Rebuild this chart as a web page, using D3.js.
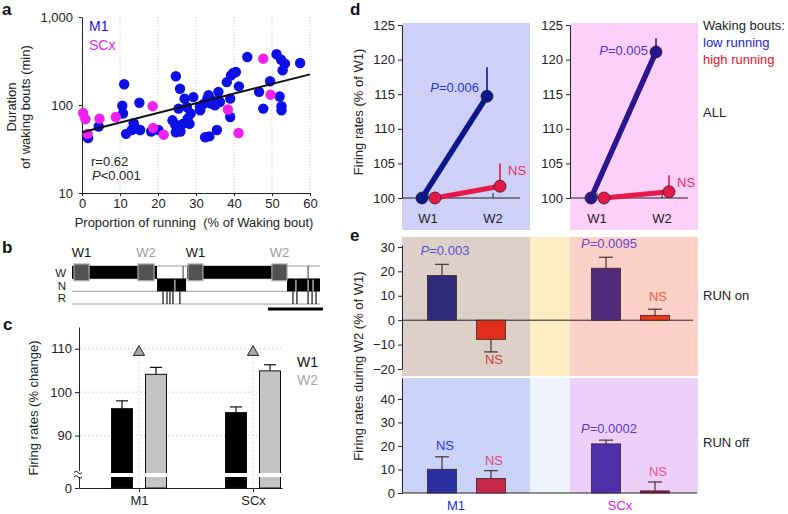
<!DOCTYPE html>
<html>
<head>
<meta charset="utf-8">
<script src="https://cdn.jsdelivr.net/npm/d3@7"></script>
<style>
  body { margin: 0; background: #fff; }
</style>
</head>
<body>
<div id="wrapper"></div>
<script>
// ---------- data ----------
// a: running proportion (%) vs waking bout duration (min)
const m1Run = [1.6, 4.4, 11.1, 10.6, 10.8, 11.6, 13.6, 14.2, 15.1, 15.3, 13.1, 18.2, 20.1, 24.7, 25.8, 23.8, 24.7, 25.9, 25.4, 27,
  27.6, 26.5, 27.8, 28.3, 29.3, 28.6, 31.1, 32, 32.4, 33.5, 33.3, 34.3, 35, 35.9, 35.5, 36.3, 38.1, 39, 39.2, 39.8,
  40.5, 39, 41.3, 43.5, 46.6, 47.7, 49.5, 51.2, 52.4, 53.4, 52.8, 52, 52.5, 52.5, 57.4, 24.5, 33, 34, 31, 36];
const m1Dur = [42, 57, 172, 98, 80, 47, 62, 54, 106, 52, 52, 50, 52, 212, 153, 67, 49, 50, 91, 118,
  95, 61, 70, 61, 123, 80, 87, 103, 43, 44, 129, 113, 99, 141, 52, 108, 182, 118, 217, 231,
  237, 73, 163, 351, 141, 91, 186, 377, 327, 295, 248, 125, 97, 87, 300, 60, 118, 104, 96, 112];
const scxRun = [0.3, 0.9, 1.5, 4.6, 8.9, 18.6, 18.7, 21.5, 38.4, 41.2, 47.7, 49.6];
const scxDur = [81, 69, 47, 70, 73, 97, 55, 46, 89, 48, 336, 131];
const fitRun = [0, 60];
const fitDur = [49, 223];
const aTicksX = [0, 10, 20, 30, 40, 50, 60];
const aTicksY = [10, 100, 1000];

// b: hypnogram (time in arbitrary units, 0-100)
const wakeBlocks = [[0, 34.3], [46.4, 86.7]];
const wakeMarks = [44.8, 95.2];
const nremBlocks = [[34.3, 46], [86.7, 100]];
const nremGaps = [41.5, 90.3, 95.2, 97.2];
const remMarks = [36.7, 38.3, 39.5, 40.7, 43.5, 89.1, 90.7, 95.2, 96.8, 98.4];
const epochNames = ["W1", "W2", "W1", "W2"];
const epochSpans = [[0.8, 6.9], [26.6, 33.1], [46.8, 52.8], [80.6, 86.7]];
const scaleBarSpan = [79, 101.2];
const stageNames = ["W", "N", "R"];

// c: firing rates (% change)
const cRegions = ["M1", "SCx"];
const cW1 = [96.2, 95.3];
const cW1Err = [1.8, 1.3];
const cW2 = [104.1, 104.9];
const cW2Err = [1.6, 1.4];
const cMarks = [109.2, 109.2];
const cTicks = [0, 90, 100, 110];

// d: firing rates (% of W1)
const dSessions = ["W1", "W2"];
const dLowM1 = [100, 114.7], dLowM1Err = [0, 4.2];
const dHighM1 = [100, 101.7], dHighM1Err = [0, 3.3];
const dLowSCx = [100, 121.1], dLowSCxErr = [0, 2.0];
const dHighSCx = [100, 100.9], dHighSCxErr = [0, 2.4];
const dTicks = [100, 105, 110, 115, 120, 125];
const dStats = ["P=0.006", "NS", "P=0.005", "NS"];

// e: firing rates during W2 (% of W1)
const eGroups = ["M1", "SCx"];
const eOnLow = [18.3, 21.3], eOnLowErr = [4.6, 4.5];
const eOnHigh = [-7.9, 2.0], eOnHighErr = [5.1, 2.5];
const eOffLow = [10.1, 20.9], eOffLowErr = [5.3, 1.6];
const eOffHigh = [6.2, 0.9], eOffHighErr = [3.3, 3.8];
const eOnStats = ["P=0.003", "NS", "P=0.0095", "NS"];
const eOffStats = ["NS", "NS", "P=0.0002", "NS"];
const eOnTicks = [-20, -10, 0, 10, 20, 30];
const eOffTicks = [0, 10, 20, 30, 40];

// ---------- helpers ----------
const FONT = '"Liberation Sans", Arial, Helvetica, sans-serif';
const svg = d3.select("#wrapper").append("svg")
  .attr("width", 788).attr("height", 514)
  .style("display", "block")
  .attr("font-family", FONT);

function fixAxis(g) {
  g.attr("font-family", FONT).attr("font-size", 13);
  g.selectAll("text").attr("fill", "#222");
  g.selectAll("path.domain, .tick line").attr("stroke", "#222");
}

function text(g, x, y, s, o = {}) {
  return g.append("text").attr("x", x).attr("y", y)
    .attr("font-size", o.size || 13)
    .attr("font-weight", o.weight || null)
    .attr("fill", o.color || "#222")
    .attr("text-anchor", o.anchor || "start")
    .style("white-space", "pre")
    .text(s);
}

// "P=0.006" -> italic P
function statText(g, x, y, s, color, anchor) {
  const t = g.append("text").attr("x", x).attr("y", y)
    .attr("font-size", 13).attr("fill", color).attr("text-anchor", anchor || "middle");
  if (s.startsWith("P")) {
    t.append("tspan").attr("font-style", "italic").text("P");
    t.append("tspan").text(s.slice(1));
  } else t.text(s);
  return t;
}

function vtitle(g, x, y, s) {
  g.append("text").attr("transform", `translate(${x},${y}) rotate(-90)`)
    .attr("text-anchor", "middle").attr("font-size", 13).attr("fill", "#222").text(s);
}

// panel letters
[["a", 2, 15], ["b", 2, 253], ["c", 3, 330], ["d", 350, 15], ["e", 350, 241]].forEach(([l, x, y]) =>
  text(svg, x, y, l, { size: 17, weight: "bold", color: "#111" }));

// ---------- panel a ----------
const gA = svg.append("g");
const xA = d3.scaleLinear().domain([0, 60]).range([82, 310]);
const yA = d3.scaleLog().domain([10, 1000]).range([193, 17]);

gA.selectAll("line.grid").data(aTicksX.slice(1)).join("line")
  .attr("x1", d => xA(d)).attr("x2", d => xA(d))
  .attr("y1", yA(1000)).attr("y2", yA(10))
  .attr("stroke", "#cfcfcf").attr("stroke-dasharray", "1,2");

gA.append("g").attr("transform", `translate(0,${yA(10)})`)
  .call(d3.axisBottom(xA).tickValues(aTicksX).tickSize(3).tickSizeOuter(0).tickPadding(3))
  .call(fixAxis);
gA.append("g").attr("transform", `translate(${xA(0)},0)`)
  .call(d3.axisLeft(yA).tickValues(aTicksY).tickFormat(d3.format(",")).tickSize(3).tickSizeOuter(0).tickPadding(6))
  .call(fixAxis);

gA.selectAll("circle.m1").data(d3.zip(m1Run, m1Dur)).join("circle")
  .attr("cx", d => xA(d[0])).attr("cy", d => yA(d[1])).attr("r", 5.2).attr("fill", "#0c10e6");
gA.selectAll("circle.scx").data(d3.zip(scxRun, scxDur)).join("circle")
  .attr("cx", d => xA(d[0])).attr("cy", d => yA(d[1])).attr("r", 5.2).attr("fill", "#f020ee");
gA.append("path").datum(d3.zip(fitRun, fitDur))
  .attr("d", d3.line().x(d => xA(d[0])).y(d => yA(d[1])))
  .attr("stroke", "#111").attr("stroke-width", 2).attr("fill", "none");

text(gA, 89, 31, "M1", { size: 14, color: "#1414e0" });
text(gA, 89, 50, "SCx", { size: 14, color: "#f020ee" });
text(gA, 91, 166, "r=0.62");
statText(gA, 92, 180, "P<0.001", "#222", "start");
vtitle(gA, 16, 107, "Duration");
vtitle(gA, 30, 107, "of waking bouts (min)");
text(gA, 194, 227, "Proportion of running  (% of Waking bout)", { anchor: "middle" });

// ---------- panel b ----------
const gB = svg.append("g");
const xB = d3.scaleLinear().domain([0, 100]).range([72, 320]);
const rowY = d3.scaleBand().domain(stageNames).range([266, 304]);

gB.selectAll("text.stage").data(stageNames).join("text")
  .attr("x", 66).attr("y", d => rowY(d) + rowY.bandwidth() / 2 + 4.5)
  .attr("text-anchor", "end").attr("font-size", 11.5).attr("fill", "#222").text(d => d);

gB.selectAll("line.row").data([266, 266 + rowY.bandwidth(), 266 + 2 * rowY.bandwidth(), 304]).join("line")
  .attr("x1", xB(0)).attr("x2", xB(100)).attr("y1", d => d).attr("y2", d => d)
  .attr("stroke", "#9a9a9a").attr("stroke-width", 1);

gB.selectAll("rect.wake").data(wakeBlocks).join("rect")
  .attr("x", d => xB(d[0])).attr("width", d => xB(d[1]) - xB(d[0]))
  .attr("y", rowY("W")).attr("height", rowY.bandwidth()).attr("fill", "#000");
gB.selectAll("line.wm").data(wakeMarks).join("line")
  .attr("x1", d => xB(d)).attr("x2", d => xB(d))
  .attr("y1", rowY("W")).attr("y2", rowY("W") + rowY.bandwidth())
  .attr("stroke", "#333").attr("stroke-width", 1);
gB.selectAll("rect.nrem").data(nremBlocks).join("rect")
  .attr("x", d => xB(d[0])).attr("width", d => xB(d[1]) - xB(d[0]))
  .attr("y", rowY("N")).attr("height", rowY.bandwidth()).attr("fill", "#000");
gB.selectAll("line.ng").data(nremGaps).join("line")
  .attr("x1", d => xB(d)).attr("x2", d => xB(d))
  .attr("y1", rowY("N") + 1).attr("y2", rowY("N") + rowY.bandwidth())
  .attr("stroke", "#fff").attr("stroke-width", 1);
gB.selectAll("line.rm").data(remMarks).join("line")
  .attr("x1", d => xB(d)).attr("x2", d => xB(d))
  .attr("y1", rowY("R")).attr("y2", rowY("R") + rowY.bandwidth())
  .attr("stroke", "#111").attr("stroke-width", 1.2);

gB.selectAll("rect.epoch").data(epochSpans).join("rect")
  .attr("x", d => xB(d[0])).attr("width", d => xB(d[1]) - xB(d[0]))
  .attr("y", rowY("W") - 2).attr("height", rowY.bandwidth() + 4)
  .attr("fill", "#525252").attr("stroke", "#a8a8a8").attr("stroke-width", 1.2);
gB.selectAll("text.epoch").data(epochSpans).join("text")
  .attr("x", d => xB((d[0] + d[1]) / 2)).attr("y", 257)
  .attr("text-anchor", "middle").attr("font-size", 13)
  .attr("fill", (d, i) => epochNames[i] === "W1" ? "#111" : "#9a9a9a")
  .text((d, i) => epochNames[i]);
gB.append("line").attr("x1", xB(scaleBarSpan[0])).attr("x2", xB(scaleBarSpan[1]))
  .attr("y1", 309).attr("y2", 309).attr("stroke", "#000").attr("stroke-width", 3);

// ---------- panel c ----------
const gC = svg.append("g");
const xC = d3.scalePoint().domain(cRegions).range([139, 253]);
const yC = d3.scaleLinear().domain([0, 80, 115]).range([488, 479, 327]);
const cOff = 17, cBarW = 21;

gC.selectAll("line.hg").data(cTicks.slice(1)).join("line")
  .attr("x1", 80).attr("x2", 282).attr("y1", d => yC(d)).attr("y2", d => yC(d))
  .attr("stroke", "#c4c4c4").attr("stroke-dasharray", "1,3");
gC.selectAll("line.vg").data(cRegions).join("line")
  .attr("x1", d => xC(d)).attr("x2", d => xC(d)).attr("y1", (d, i) => yC(cMarks[i]) + 6).attr("y2", yC(0))
  .attr("stroke", "#c4c4c4").attr("stroke-dasharray", "1,3");

gC.append("g").attr("transform", "translate(79,0)")
  .call(d3.axisLeft(yC).tickValues(cTicks).tickSize(4).tickSizeOuter(0).tickPadding(3))
  .call(fixAxis);
gC.append("g").attr("transform", `translate(0,${yC(0)})`)
  .call(d3.axisBottom(d3.scaleLinear().domain([0, 1]).range([79, 282])).tickValues([]).tickSizeOuter(0))
  .call(fixAxis);
gC.append("g").attr("transform", `translate(0,${yC(0)})`)
  .call(d3.axisBottom(xC).tickSize(4).tickSizeOuter(0).tickPadding(4))
  .call(fixAxis)
  .call(g => g.select(".domain").remove());

function cBars(vals, errs, dx, fill) {
  const g = gC.append("g");
  g.selectAll("rect").data(vals).join("rect")
    .attr("x", (d, i) => xC(cRegions[i]) + dx - cBarW / 2).attr("width", cBarW)
    .attr("y", d => yC(d)).attr("height", d => yC(0) - yC(d))
    .attr("fill", fill).attr("stroke", "#111").attr("stroke-width", 1);
  g.selectAll("line.e").data(vals).join("line")
    .attr("x1", (d, i) => xC(cRegions[i]) + dx).attr("x2", (d, i) => xC(cRegions[i]) + dx)
    .attr("y1", d => yC(d)).attr("y2", (d, i) => yC(d + errs[i]))
    .attr("stroke", "#111").attr("stroke-width", 1.2);
  g.selectAll("line.c").data(vals).join("line")
    .attr("x1", (d, i) => xC(cRegions[i]) + dx - 6).attr("x2", (d, i) => xC(cRegions[i]) + dx + 6)
    .attr("y1", (d, i) => yC(d + errs[i])).attr("y2", (d, i) => yC(d + errs[i]))
    .attr("stroke", "#111").attr("stroke-width", 1.2);
  // axis break band
  g.selectAll("rect.brk").data(vals).join("rect")
    .attr("x", (d, i) => xC(cRegions[i]) + dx - cBarW / 2 - 1).attr("width", cBarW + 2)
    .attr("y", yC(0) - 15).attr("height", 4).attr("fill", "#fff");
}
cBars(cW1, cW1Err, -cOff, "#000");
cBars(cW2, cW2Err, cOff, "#c4c4c4");

// break symbol on the y axis
gC.append("rect").attr("x", 76).attr("y", 471).attr("width", 6).attr("height", 6).attr("fill", "#fff");
[471.5, 476].forEach(y => gC.append("path")
  .attr("d", `M74,${y + 1} q2,-3 4,0 t4,0`).attr("fill", "none").attr("stroke", "#222").attr("stroke-width", 1));

gC.selectAll("path.tri").data(cMarks).join("path")
  .attr("d", d3.symbol(d3.symbolTriangle).size(55))
  .attr("transform", (d, i) => `translate(${xC(cRegions[i])},${yC(d)})`)
  .attr("fill", "#a9a9a9").attr("stroke", "#222").attr("stroke-width", 1);

text(gC, 318, 367, "W1", { anchor: "end", color: "#111", size: 14 });
text(gC, 318, 385, "W2", { anchor: "end", color: "#a8a8a8", size: 14 });
vtitle(gC, 38, 408, "Firing rates (% change)");

// ---------- panel d ----------
const gD = svg.append("g");
const yD = d3.scaleLinear().domain([100, 125]).range([198, 25]);

function drawD(left, bg, sessRange, low, lowErr, high, highErr, lowColor, statLow, statLowColor, statLowDy) {
  const g = gD.append("g");
  g.append("rect").attr("x", left).attr("y", 23).attr("width", 128).attr("height", 207).attr("fill", bg);
  const x = d3.scalePoint().domain(dSessions).range(sessRange);
  g.append("g").attr("transform", `translate(${left},0)`)
    .call(d3.axisLeft(yD).tickValues(dTicks).tickSize(4).tickSizeOuter(0).tickPadding(3))
    .call(fixAxis);
  g.append("line").attr("x1", left).attr("x2", left + 118).attr("y1", yD(100)).attr("y2", yD(100))
    .attr("stroke", "#222");
  g.selectAll("line.xt").data(dSessions).join("line")
    .attr("x1", d => x(d)).attr("x2", d => x(d)).attr("y1", yD(100)).attr("y2", yD(100) - 5)
    .attr("stroke", "#222");
  g.selectAll("text.xl").data(dSessions).join("text")
    .attr("x", d => x(d)).attr("y", 223).attr("text-anchor", "middle")
    .attr("font-size", 13).attr("fill", "#222").text(d => d);

  function series(vals, errs, dx, color, lw) {
    const pts = vals.map((v, i) => [x(dSessions[i]) + dx, yD(v), yD(v + errs[i])]);
    g.selectAll(null).data(pts.slice(1)).join("line")
      .attr("x1", d => d[0]).attr("x2", d => d[0]).attr("y1", d => d[1]).attr("y2", d => d[2])
      .attr("stroke", color).attr("stroke-width", 1.6);
    g.append("path").datum(pts).attr("d", d3.line().x(d => d[0]).y(d => d[1]))
      .attr("stroke", color).attr("stroke-width", lw).attr("fill", "none");
    g.selectAll(null).data(pts).join("circle")
      .attr("cx", d => d[0]).attr("cy", d => d[1]).attr("r", 6)
      .attr("fill", color).attr("stroke", "#222").attr("stroke-width", 0.8);
    return pts;
  }
  const lp = series(low, lowErr, -6, lowColor, 5.5);
  const hp = series(high, highErr, 7, "#e6194a", 5);
  statText(g, lp[1][0] - 8, lp[1][1] + statLowDy, statLow, statLowColor, "end");
  statText(g, hp[1][0] + 8, hp[1][2] + 12, "NS", "#e0305a", "start");
}
drawD(402, "#cfd0f7", [428, 493], dLowM1, dLowM1Err, dHighM1, dHighM1Err, "#0a188c", dStats[0], "#2038d8", -4);
drawD(570, "#fdd0fb", [597, 662], dLowSCx, dLowSCxErr, dHighSCx, dHighSCxErr, "#2a168e", dStats[2], "#4a38c8", 3);
vtitle(gD, 363, 112, "Firing rates (% of W1)");
text(gD, 703, 30, "Waking bouts:");
text(gD, 703, 47, "low running", { color: "#1a1ae6" });
text(gD, 703, 64, "high running", { color: "#e8102a" });
text(gD, 703, 117, "ALL");

// ---------- panel e ----------
const gE = svg.append("g");
const xE = d3.scalePoint().domain(eGroups).range([466, 630]);
const yOn = d3.scaleLinear().domain([-20, 30]).range([369, 247]);
const yOff = d3.scaleLinear().domain([0, 40]).range([493, 399]);
const eLowDx = -24, eHighDx = 25, eBarW = 29;

[[237, 376, ["#ddd0c8", "#fdedc3", "#fcd2c8"]], [378, 493, ["#ccd3f8", "#eef2fc", "#edd0f8"]]]
  .forEach(([y0, y1, cols]) => {
    [[402, 530], [530, 570], [570, 698]].forEach(([x0, x1], i) =>
      gE.append("rect").attr("x", x0).attr("y", y0).attr("width", x1 - x0).attr("height", y1 - y0).attr("fill", cols[i]));
  });

gE.append("g").attr("transform", "translate(402,0)")
  .call(d3.axisLeft(yOn.copy().domain([-20, 30.8]).range([369, 245])).tickValues(eOnTicks).tickSize(4).tickSizeOuter(0).tickPadding(3))
  .call(fixAxis);
gE.append("g").attr("transform", "translate(402,0)")
  .call(d3.axisLeft(yOff.copy().domain([0, 48.9]).range([493, 378])).tickValues(eOffTicks).tickSize(4).tickSizeOuter(0).tickPadding(3))
  .call(fixAxis);
gE.append("line").attr("x1", 402).attr("x2", 693).attr("y1", yOn(0)).attr("y2", yOn(0)).attr("stroke", "#222");
gE.append("line").attr("x1", 402).attr("x2", 697).attr("y1", yOff(0)).attr("y2", yOff(0)).attr("stroke", "#222");

function eBars(y, vals, errs, dx, colors, stats, statColors, statDy) {
  const g = gE.append("g");
  vals.forEach((v, i) => {
    const cx = xE(eGroups[i]) + dx;
    g.append("rect").attr("x", cx - eBarW / 2).attr("width", eBarW)
      .attr("y", Math.min(y(v), y(0))).attr("height", Math.abs(y(v) - y(0)))
      .attr("fill", colors[i]).attr("stroke", "#3a2626").attr("stroke-width", 0.8);
    const ve = v >= 0 ? v + errs[i] : v - errs[i];
    g.append("line").attr("x1", cx).attr("x2", cx).attr("y1", y(v)).attr("y2", y(ve))
      .attr("stroke", "#4a3030").attr("stroke-width", 1.2);
    g.append("line").attr("x1", cx - 7).attr("x2", cx + 7).attr("y1", y(ve)).attr("y2", y(ve))
      .attr("stroke", "#4a3030").attr("stroke-width", 1.2);
    const ty = v >= 0 ? y(ve) - statDy : y(ve) + 12;
    statText(g, cx + 3, ty, stats[i], statColors[i], "middle");
  });
}
eBars(yOn, eOnLow, eOnLowErr, eLowDx, ["#2f2c7c", "#542a7a"], [eOnStats[0], eOnStats[2]], ["#5a50d0", "#6a44d4"], 9);
eBars(yOn, eOnHigh, eOnHighErr, eHighDx, ["#e0301c", "#e43a1e"], [eOnStats[1], eOnStats[3]], ["#c84040", "#f06040"], 8);
eBars(yOff, eOffLow, eOffLowErr, eLowDx, ["#2a30a2", "#5030a8"], [eOffStats[0], eOffStats[2]], ["#2838e0", "#5a3ad0"], 7);
eBars(yOff, eOffHigh, eOffHighErr, eHighDx, ["#c8284a", "#8a1a48"], [eOffStats[1], eOffStats[3]], ["#e04870", "#f05090"], 6);

gE.selectAll("text.grp").data(eGroups).join("text")
  .attr("x", d => xE(d) - 10).attr("y", 510).attr("text-anchor", "middle").attr("font-size", 13)
  .attr("fill", (d, i) => i === 0 ? "#1f2fe0" : "#e020e0").text(d => d);
text(gE, 703, 300, "RUN on");
text(gE, 703, 447, "RUN off");
vtitle(gE, 363, 366, "Firing rates during W2 (% of W1)");
</script>
</body>
</html>
